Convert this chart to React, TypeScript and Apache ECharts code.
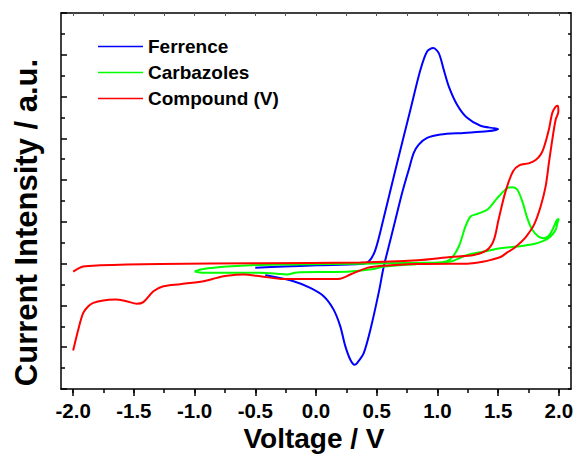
import React, { useEffect, useRef } from "react";
import * as echarts from "echarts";

// Voltage (V) vs current intensity (a.u.) pairs, traced in scan order
const ferrence: number[][] = [
  [-0.5, 2.9], [-0.267, 2.93], [0.008, 2.96], [0.365, 2.99], [0.434, 3.05], [0.489, 3.33],
  [0.558, 4.1], [0.668, 5.41], [0.778, 6.69], [0.86, 7.64], [0.915, 8.08], [0.965, 8.16],
  [1.011, 8.04], [1.052, 7.64], [1.094, 7.24], [1.163, 6.8], [1.245, 6.49], [1.355, 6.3],
  [1.47, 6.24], [1.5, 6.22],
  [1.41, 6.17], [1.217, 6.13], [1.025, 6.09], [0.915, 6.01], [0.846, 5.85], [0.805, 5.65],
  [0.764, 5.25], [0.709, 4.69], [0.654, 4.05], [0.613, 3.57], [0.558, 2.93], [0.516, 2.3],
  [0.448, 1.42], [0.393, 0.86], [0.338, 0.62], [0.318, 0.58], [0.283, 0.7], [0.242, 1.02],
  [0.2, 1.5], [0.145, 1.9], [0.063, 2.22], [-0.047, 2.42], [-0.185, 2.58], [-0.391, 2.71],
  [-0.418, 2.72],
];

const carbazoles: number[][] = [
  [-1.0, 2.81], [-0.927, 2.87], [-0.734, 2.93], [-0.459, 2.97], [-0.185, 2.98], [0.365, 3.0],
  [0.833, 3.02], [1.025, 3.03], [1.108, 3.11], [1.176, 3.41], [1.231, 3.89], [1.273, 4.13],
  [1.328, 4.19], [1.41, 4.29], [1.493, 4.57], [1.575, 4.81], [1.616, 4.83], [1.658, 4.77],
  [1.699, 4.49], [1.74, 4.09], [1.781, 3.81], [1.836, 3.64], [1.877, 3.61], [1.918, 3.67],
  [1.96, 3.89], [1.982, 4.04], [2.0, 4.07],
  [1.988, 3.97], [1.974, 3.81], [1.932, 3.65], [1.877, 3.55], [1.795, 3.47], [1.658, 3.41],
  [1.52, 3.37], [1.382, 3.29], [1.245, 3.21], [1.163, 3.11], [1.108, 3.05], [0.833, 2.99],
  [0.558, 2.93], [0.475, 2.87], [0.283, 2.81], [0.091, 2.8], [-0.157, 2.79], [-0.239, 2.74],
  [-0.322, 2.76], [-0.459, 2.78], [-0.734, 2.78], [-0.927, 2.78], [-1.0, 2.81],
];

const compoundV: number[][] = [
  [-2.0, 2.81], [-1.917, 2.93], [-1.779, 2.96], [-1.284, 2.99], [-0.459, 3.01], [0.365, 3.03],
  [0.833, 3.08], [1.108, 3.16], [1.3, 3.21], [1.41, 3.33], [1.465, 3.57], [1.503, 4.05],
  [1.561, 4.73], [1.623, 5.21], [1.677, 5.36], [1.751, 5.4], [1.809, 5.48], [1.85, 5.61],
  [1.877, 5.78], [1.918, 6.21], [1.946, 6.61], [1.974, 6.76], [1.993, 6.78],
  [1.996, 6.64], [1.974, 6.45], [1.946, 5.97], [1.918, 5.41], [1.891, 4.85], [1.85, 4.37],
  [1.795, 3.93], [1.726, 3.63], [1.685, 3.51], [1.63, 3.37], [1.575, 3.27], [1.52, 3.16],
  [1.438, 3.09], [1.382, 3.05], [1.245, 3.0], [1.108, 3.0], [0.833, 2.99], [0.558, 2.95],
  [0.421, 2.9], [0.283, 2.74], [0.2, 2.64], [0.145, 2.63], [-0.267, 2.63], [-0.459, 2.7],
  [-0.597, 2.74], [-0.734, 2.71], [-0.817, 2.66], [-0.927, 2.58], [-1.119, 2.51], [-1.257, 2.46],
  [-1.339, 2.34], [-1.422, 2.08], [-1.476, 2.04], [-1.559, 2.1], [-1.655, 2.14], [-1.752, 2.12],
  [-1.834, 2.06], [-1.875, 1.98], [-1.917, 1.82], [-1.958, 1.42], [-2.0, 0.92],
];

const xMajorTicks = [-2, -1.5, -1, -0.5, 0, 0.5, 1, 1.5, 2];
const xMinorTicks = [-2, -1.75, -1.5, -1.25, -1, -0.75, -0.5, -0.25, 0, 0.25, 0.5, 0.75, 1, 1.25, 1.5, 1.75, 2];
const seriesNames = ["Ferrence", "Carbazoles", "Compound (V)"];
const seriesColors = ["#0000ff", "#00ff00", "#ff0000"];
const xTitle = "Voltage / V";
const yTitle = "Current Intensity / a.u.";

const FONT = "'Liberation Sans', Arial, Helvetica, sans-serif";
const LEGEND_ICON =
  "path://M0,0L0.01,0L0.01,0.01L0,0.01Z M0,8.2L45,8.2L45,9.8L0,9.8Z M44.99,17.99L45,17.99L45,18L44.99,18Z";

export default function App() {
  const ref = useRef<HTMLDivElement>(null);
  useEffect(() => {
    document.body.style.margin = "0";
    if (!ref.current) return;
    const chart = echarts.init(ref.current, null, { renderer: "svg" });
    const datasets = [ferrence, carbazoles, compoundV];
    chart.setOption({
      animation: false,
      backgroundColor: "#ffffff",
      grid: { left: 61, right: 5, top: 13, bottom: 65, containLabel: false, outerBoundsMode: "none" },
      legend: {
        left: 98,
        top: 37,
        orient: "vertical",
        padding: 0,
        itemWidth: 45,
        itemHeight: 18,
        itemGap: 7,
        icon: LEGEND_ICON,
        data: seriesNames,
        textStyle: { fontFamily: FONT, fontSize: 19, fontWeight: "bold", color: "#000" },
      },
      xAxis: [
        {
          type: "value",
          min: -2.1,
          max: 2.1,
          position: "bottom",
          axisLine: { show: true, onZero: false, lineStyle: { color: "#000", width: 1.5 } },
          axisTick: { show: true, inside: false, length: 7, customValues: xMajorTicks, lineStyle: { color: "#000", width: 1.5 } },
          axisLabel: {
            customValues: xMajorTicks,
            formatter: (v: number) => v.toFixed(1),
            fontFamily: FONT,
            fontSize: 20.5,
            lineHeight: 18,
            fontWeight: "bold",
            color: "#000",
            margin: 12.5,
          },
          splitLine: { show: false },
        },
        {
          type: "value",
          min: -2.1,
          max: 2.1,
          position: "bottom",
          offset: 0,
          axisLine: { show: false, onZero: false },
          axisTick: { show: true, inside: false, length: 4, customValues: xMinorTicks, lineStyle: { color: "#000", width: 1.5 } },
          axisLabel: { show: false },
          splitLine: { show: false },
        },
        {
          type: "value",
          min: -2.1,
          max: 2.1,
          position: "top",
          axisLine: { show: true, onZero: false, lineStyle: { color: "#000", width: 1.5 } },
          axisTick: { show: true, inside: true, length: 3, customValues: xMinorTicks, lineStyle: { color: "#555", width: 1 } },
          axisLabel: { show: false },
          splitLine: { show: false },
        },
      ],
      yAxis: [
        {
          type: "value",
          min: 0,
          max: 9,
          interval: 1,
          position: "left",
          axisLine: { show: true, onZero: false, lineStyle: { color: "#000", width: 1.5 } },
          axisTick: { show: true, inside: true, length: 6, lineStyle: { color: "#000", width: 1.5 } },
          minorTick: { show: true, splitNumber: 2, length: 4, lineStyle: { color: "#000", width: 1.5 } },
          axisLabel: { show: false },
          splitLine: { show: false },
        },
        {
          type: "value",
          min: 0,
          max: 9,
          interval: 0.5,
          position: "right",
          axisLine: { show: true, onZero: false, lineStyle: { color: "#000", width: 1.5 } },
          axisTick: { show: true, inside: true, length: 3, lineStyle: { color: "#000", width: 1.5 } },
          axisLabel: { show: false },
          splitLine: { show: false },
        },
      ],
      graphic: [
        {
          type: "text",
          x: 26.5,
          y: 222.5,
          rotation: Math.PI / 2,
          style: {
            text: yTitle,
            fontFamily: FONT,
            fontSize: 31,
            fontWeight: "bold",
            fill: "#000",
            align: "center",
            verticalAlign: "middle",
          },
        },
        {
          type: "text",
          x: 314,
          y: 438.3,
          style: {
            text: xTitle,
            fontFamily: FONT,
            fontSize: 28,
            lineHeight: 24,
            fontWeight: "bold",
            fill: "#000",
            align: "center",
            verticalAlign: "middle",
          },
        },
      ],
      series: datasets.map((d, i) => ({
        name: seriesNames[i],
        type: "line",
        xAxisIndex: 0,
        yAxisIndex: 0,
        data: d,
        symbol: "none",
        smooth: 0.3,
        lineStyle: { color: seriesColors[i], width: 2 },
        itemStyle: { color: seriesColors[i] },
        z: 2 + i,
      })),
    });
    return () => chart.dispose();
  }, []);
  return <div ref={ref} style={{ width: 576, height: 454 }} />;
}
